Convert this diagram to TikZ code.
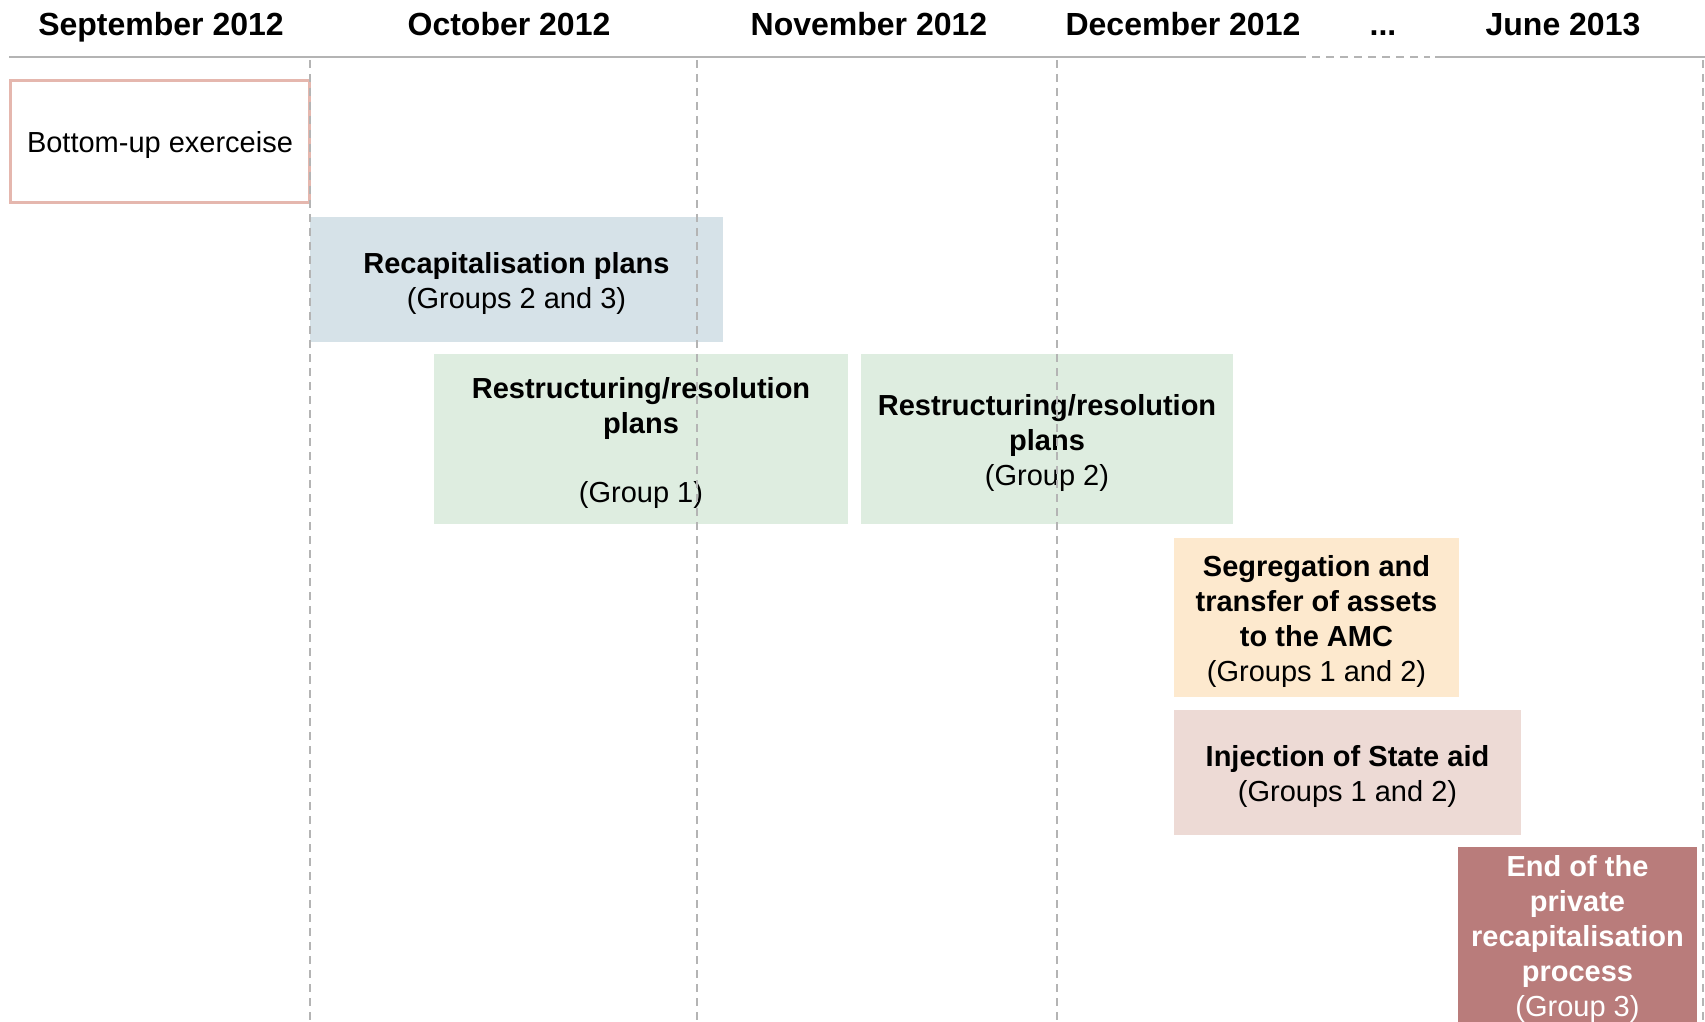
\documentclass[tikz,border=0pt]{standalone}
\usepackage{fontspec}
\setmainfont{Liberation Sans}

\definecolor{recapblue}{HTML}{D6E2E8}
\definecolor{restrgreen}{HTML}{DEEDE0}
\definecolor{segpeach}{HTML}{FDE9CE}
\definecolor{injpink}{HTML}{EDDAD5}
\definecolor{endred}{HTML}{B97C7B}
\definecolor{bottomborder}{HTML}{E5B7AE}
\definecolor{gridgray}{HTML}{B4B4B4}

\tikzset{
  month/.style={anchor=base, font=\fontsize{16}{19.2}\selectfont\bfseries},
  stage/.style={rectangle, inner sep=0pt},
  stagetext/.style={inner sep=0pt, align=center, font=\fontsize{14.5}{17.4}\selectfont},
  gridline/.style={gridgray, line width=1pt, dash pattern=on 4pt off 3pt},
}

\begin{document}
\begin{tikzpicture}[x=0.5pt, y=-0.5pt]
    \useasboundingbox (0,0) rectangle (1705,1022);

    % Months
    \node[month] (sep) at (161,36) {September 2012};
    \node[month] (oct) at (509,36) {October 2012};
    \node[month] (nov) at (869,36) {November 2012};
    \node[month] (dec) at (1183,36) {December 2012};
    \node[month] (dots) at (1383,36) {...};
    \node[month] (jun) at (1563,36) {June 2013};

    % Header rule
    \draw[gridgray, line width=1pt] (9,57) -- (1298,57);
    \draw[gridline] (1298,57) -- (1430,57);
    \draw[gridgray, line width=1pt] (1435,57) -- (1705,57);

    % Stage boxes
    \node[stage, draw=bottomborder, line width=1.5pt, minimum width=149.5pt, minimum height=61pt] (bottomup) at (160,141.5) {};
    \node[stage, fill=recapblue, minimum width=206.5pt, minimum height=62.5pt] (recap) at (516.5,279.5) {};
    \node[stage, fill=restrgreen, minimum width=207pt, minimum height=85pt] (restrA) at (641,439) {};
    \node[stage, fill=restrgreen, minimum width=186pt, minimum height=85pt] (restrB) at (1047,439) {};
    \node[stage, fill=segpeach, minimum width=142.5pt, minimum height=79.5pt] (segreg) at (1316.5,617.5) {};
    \node[stage, fill=injpink, minimum width=173.5pt, minimum height=62.5pt] (inject) at (1347.5,772.5) {};
    \node[stage, fill=endred, minimum width=119.5pt, minimum height=88pt] (endproc) at (1577.5,935) {};

    % Stage texts
    \node[stagetext] (bottomuptext) at ([yshift=-2pt]bottomup.center) {Bottom-up exerceise};
    \node[stagetext] (recaptext) at ([yshift=-2pt]recap.center) {\textbf{Recapitalisation plans}\\(Groups 2 and 3)};
    \node[stagetext] (restrAtext) at ([yshift=-2pt]restrA.center) {\textbf{Restructuring/resolution}\\\textbf{plans}\\ \\(Group 1)};
    \node[stagetext] (restrBtext) at ([yshift=-2pt]restrB.center) {\textbf{Restructuring/resolution}\\\textbf{plans}\\(Group 2)};
    \node[stagetext] (segregtext) at ([yshift=-2pt]segreg.center) {\textbf{Segregation and}\\\textbf{transfer of assets}\\\textbf{to the AMC}\\(Groups 1 and 2)};
    \node[stagetext] (injecttext) at ([yshift=-2pt]inject.center) {\textbf{Injection of State aid}\\(Groups 1 and 2)};
    \node[stagetext, text=white] (endproctext) at ([yshift=-2pt]endproc.center) {\textbf{End of the}\\\textbf{private}\\\textbf{recapitalisation}\\\textbf{process}\\(Group 3)};

    % Month boundaries
    \foreach \xb in {310,697,1057,1703}
        \draw[gridline] (\xb,60) -- (\xb,1022);
\end{tikzpicture}
\end{document}
